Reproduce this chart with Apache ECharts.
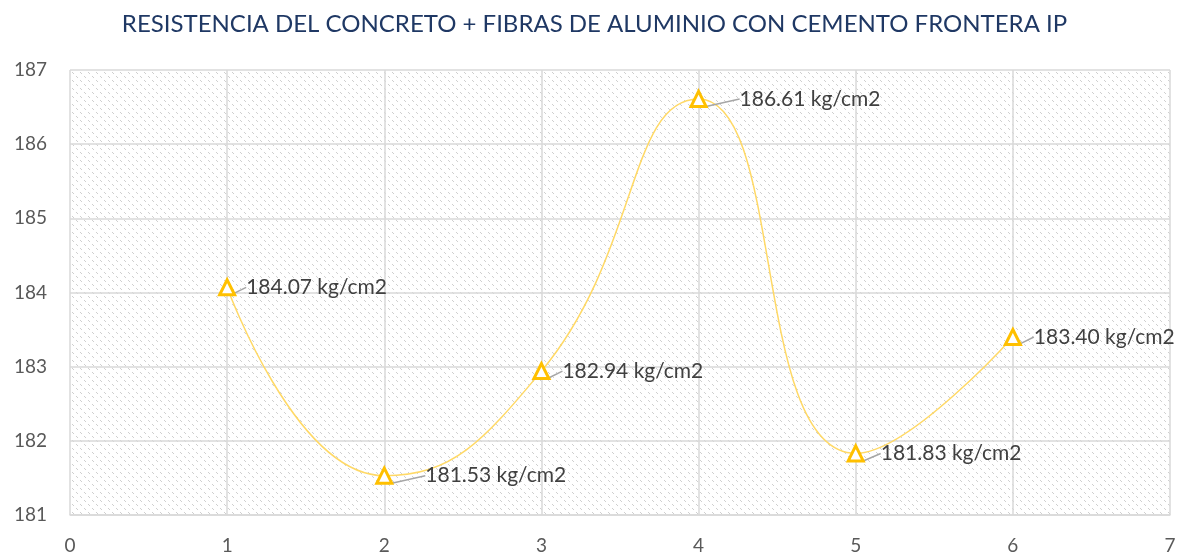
<!DOCTYPE html>
<html>
<head>
<meta charset="utf-8">
<script src="https://cdn.jsdelivr.net/npm/echarts@6/dist/echarts.min.js"></script>
<style>
  html, body { margin: 0; padding: 0; background: #fff; }
  #mychart { width: 1189px; height: 558px; }
</style>
</head>
<body>
<div id="mychart"></div>
<script>
var titleText = 'RESISTENCIA DEL CONCRETO + FIBRAS DE ALUMINIO CON CEMENTO FRONTERA IP';
var muestras = [1, 2, 3, 4, 5, 6];
var resistencia = [184.07, 181.53, 182.94, 186.61, 181.83, 183.40];
var unidad = ' kg/cm2';

// hatch pattern for the plot area
function hatch() {
    var c = document.createElement('canvas');
    c.width = 8;
    c.height = 8;
    var ctx = c.getContext('2d');
    ctx.fillStyle = '#ffffff';
    ctx.fillRect(0, 0, 8, 8);
    ctx.fillStyle = '#cfcfcf';
    for (var i = 0; i < 8; i++) {
        if (i % 4 < 2) ctx.fillRect(i, i, 1, 1);
    }
    return c;
}

var labelShift = [6, 28, 8, 28, 12, 8];

var chart = echarts.init(document.getElementById('mychart'));
chart.setOption({
    animation: false,
    title: {
        text: titleText,
        left: 'center',
        top: 7,
        textStyle: {
            color: '#1f3864',
            fontFamily: 'Lato',
            fontWeight: 'normal',
            fontSize: 24
        }
    },
    grid: {
        left: 70,
        right: 19,
        top: 70,
        bottom: 43,
        show: true,
        borderWidth: 0,
        backgroundColor: {image: hatch(), repeat: 'repeat'}
    },
    xAxis: {
        type: 'value',
        min: 0,
        max: 7,
        interval: 1,
        axisLine: {lineStyle: {color: '#d9d9d9', width: 1.5}},
        axisTick: {show: false},
        axisLabel: {color: '#595959', fontSize: 19, fontFamily: 'Lato', margin: 21},
        splitLine: {lineStyle: {color: '#d9d9d9', width: 1.5}}
    },
    yAxis: {
        type: 'value',
        min: 181,
        max: 187,
        interval: 1,
        axisLine: {show: false},
        axisTick: {show: false},
        axisLabel: {color: '#595959', fontSize: 19, fontFamily: 'Lato', margin: 23},
        splitLine: {lineStyle: {color: '#d9d9d9', width: 1.5}}
    },
    series: [{
        type: 'line',
        data: muestras.map(function (x, i) { return [x, resistencia[i]]; }),
        smooth: 0.5,
        lineStyle: {color: '#ffd966', width: 1.5},
        symbol: 'triangle',
        symbolSize: 15,
        itemStyle: {color: '#ffffff', borderColor: '#ffc000', borderWidth: 3},
        label: {
            show: true,
            position: 'right',
            distance: 4,
            color: '#404040',
            fontSize: 21,
            fontFamily: 'Lato',
            formatter: function (p) { return p.value[1].toFixed(2) + unidad; }
        },
        labelLine: {show: true, lineStyle: {color: '#a6a6a6', width: 1.5}},
        labelLayout: function (p) {
            return {dx: labelShift[p.dataIndex]};
        }
    }]
});
</script>
</body>
</html>
